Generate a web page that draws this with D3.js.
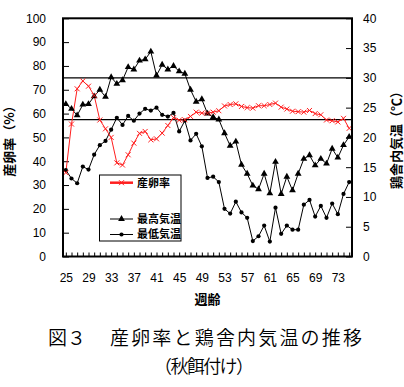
<!DOCTYPE html>
<html>
<head>
<meta charset="utf-8">
<script src="https://cdn.jsdelivr.net/npm/d3@7/dist/d3.min.js"></script>
<style>
  html, body { margin: 0; padding: 0; background: #fff; }
  svg { display: block; }
  text { font-family: "Liberation Sans", Arial, sans-serif; fill: #000; }
  .cjk { font-family: "Noto Sans CJK JP", sans-serif; }
</style>
</head>
<body>
<script>
// ---- data ----
const weeks = [25,26,27,28,29,30,31,32,33,34,35,36,37,38,39,40,41,42,43,44,45,46,47,48,49,50,
  51,52,53,54,55,56,57,58,59,60,61,62,63,64,65,66,67,68,69,70,71,72,73,74,75];
const weekLabels = [25,29,33,37,41,45,49,53,57,61,65,69,73];
const leftTicks = [0,10,20,30,40,50,60,70,80,90,100];
const rightTicks = [0,5,10,15,20,25,30,35,40];

// 産卵率 (%)
const layRate = [35.2,55.6,70.4,73.7,71.5,67.6,57.3,53.6,50.0,39.3,38.4,42.7,47.6,51.7,52.5,49.0,
  49.4,51.8,55.0,58.3,57.2,57.4,58.8,60.6,60.2,60.2,60.6,61.2,63.2,63.8,64.1,63.0,62.5,62.3,
  63.3,63.3,63.8,64.4,62.7,61.9,61.0,60.8,60.6,61.3,60.0,59.5,57.3,57.0,56.5,58.0,53.8];
// 最高気温 (°C)
const maxTemp = [25.6,24.8,23.7,25.5,25.6,26.9,28.0,26.8,30.1,29.0,29.6,31.8,31.4,32.9,33.1,34.4,
  30.4,32.2,31.4,32.0,31.1,30.7,28.0,26.0,26.4,24.0,23.4,23.0,20.7,18.6,19.3,15.4,13.9,11.9,
  11.3,13.9,10.6,15.9,10.5,13.4,11.1,13.9,16.4,17.0,15.3,16.4,15.6,18.1,16.6,18.7,20.1];
// 最低気温 (°C)
const minTemp = [14.5,13.1,12.3,15.1,14.6,17.1,18.7,19.4,21.3,23.3,22.1,23.6,22.8,24.0,24.8,24.5,
  25.0,23.8,23.5,24.1,21.0,22.8,19.5,20.6,18.5,13.2,13.4,12.5,8.0,7.2,9.2,7.4,6.5,2.6,
  3.4,5.2,2.5,8.2,3.8,5.2,4.5,4.5,8.7,9.5,6.7,8.5,6.5,8.9,7.1,10.5,12.5];
// reference lines (°C)
const refTemps = [30, 23];

const seriesNames = ["産卵率", "最高気温", "最低気温"];

// ---- layout ----
const W = 404, H = 387;
const plot = { left: 63, right: 352, top: 18.3, bottom: 256.5 };
const RED = "#ff1f1f";

const svg = d3.select("body").append("svg").attr("width", W).attr("height", H);

const x = d3.scalePoint().domain(weeks).range([plot.left, plot.right]).padding(0.5);
const yL = d3.scaleLinear().domain([0, 100]).range([plot.bottom, plot.top]);
const yR = d3.scaleLinear().domain([0, 40]).range([plot.bottom, plot.top]);

// axes
const gL = svg.append("g").attr("transform", `translate(${plot.left},0)`)
  .call(d3.axisLeft(yL).tickValues(leftTicks).tickSize(-6).tickPadding(17));
const gR = svg.append("g").attr("transform", `translate(${plot.right},0)`)
  .call(d3.axisRight(yR).tickValues(rightTicks).tickSize(-6).tickPadding(11));
const gB = svg.append("g").attr("transform", `translate(0,${plot.bottom})`)
  .call(d3.axisBottom(x).tickSize(-4).tickPadding(17)
    .tickFormat(d => weekLabels.includes(d) ? d : ""));
[gL, gR, gB].forEach(g => {
  g.select(".domain").remove();
  g.selectAll(".tick line").attr("stroke", "#000").attr("stroke-width", 1);
  g.selectAll(".tick text").style("font-family", "'Liberation Sans', Arial, sans-serif")
    .style("font-size", "12px").attr("fill", "#000");
});

// reference lines
svg.selectAll(".ref").data(refTemps).enter().append("line")
  .attr("x1", plot.left).attr("x2", plot.right)
  .attr("y1", d => yR(d)).attr("y2", d => yR(d))
  .attr("stroke", "#000").attr("stroke-width", 1.3);

// lines
const lineL = d3.line().x((d, i) => x(weeks[i])).y(d => yL(d));
const lineR = d3.line().x((d, i) => x(weeks[i])).y(d => yR(d));

svg.append("path").datum(maxTemp).attr("d", lineR).attr("fill", "none").attr("stroke", "#000").attr("stroke-width", 1);
svg.append("path").datum(minTemp).attr("d", lineR).attr("fill", "none").attr("stroke", "#000").attr("stroke-width", 1);
svg.append("path").datum(layRate).attr("d", lineL).attr("fill", "none").attr("stroke", RED).attr("stroke-width", 1);

const tri = d3.symbol().type(d3.symbolTriangle).size(20);
const circ = d3.symbol().type(d3.symbolCircle).size(14);
const times = d3.symbol().type(d3.symbolTimes).size(18);

svg.selectAll(".mx").data(maxTemp).enter().append("path")
  .attr("d", tri).attr("transform", (d, i) => `translate(${x(weeks[i])},${yR(d)})`).attr("fill", "#000");
svg.selectAll(".mn").data(minTemp).enter().append("path")
  .attr("d", circ).attr("transform", (d, i) => `translate(${x(weeks[i])},${yR(d)})`).attr("fill", "#000");
svg.selectAll(".lr").data(layRate).enter().append("path")
  .attr("d", times).attr("transform", (d, i) => `translate(${x(weeks[i])},${yL(d)})`)
  .attr("fill", "none").attr("stroke", RED).attr("stroke-width", 1);

// frame
svg.append("rect").attr("x", plot.left).attr("y", plot.top)
  .attr("width", plot.right - plot.left).attr("height", plot.bottom - plot.top)
  .attr("fill", "none").attr("stroke", "#000").attr("stroke-width", 2);

// legend
const lg = svg.append("g");
lg.append("rect").attr("x", 99.5).attr("y", 175).attr("width", 81.5).attr("height", 66)
  .attr("fill", "#fff").attr("stroke", "#000").attr("stroke-width", 1);
const legendY = [182.7, 219, 234.5];
const legendMarks = [times, tri, circ];
seriesNames.forEach((name, i) => {
  const y = legendY[i];
  lg.append("line").attr("x1", 110).attr("x2", 133).attr("y1", y).attr("y2", y)
    .attr("stroke", i === 0 ? RED : "#000").attr("stroke-width", i === 0 ? 2.5 : 1);
  const m = lg.append("path").attr("d", legendMarks[i]).attr("transform", `translate(121.5,${y})`);
  if (i === 0) m.attr("fill", "none").attr("stroke", RED).attr("stroke-width", 1);
  else m.attr("fill", "#000");
  lg.append("text").attr("class", "cjk").attr("x", 137).attr("y", y).attr("dy", "0.36em")
    .style("font-size", "11px").style("font-weight", "bold").text(name);
});

// axis titles
svg.append("text").attr("class", "cjk")
  .attr("transform", "translate(14,138) rotate(-90)").attr("text-anchor", "middle")
  .style("font-size", "13px").style("font-weight", "bold").text("産卵率（%）");
svg.append("text").attr("class", "cjk")
  .attr("transform", "translate(401,137) rotate(-90)").attr("text-anchor", "middle")
  .style("font-size", "13px").style("font-weight", "bold").text("鶏舎内気温（℃）");
svg.append("text").attr("class", "cjk").attr("x", 207.5).attr("y", 299).attr("dy", "0.36em")
  .attr("text-anchor", "middle").style("font-size", "13px").style("font-weight", "bold").text("週齢");

// caption
svg.append("text").attr("class", "cjk").attr("x", 48).attr("y", 338).attr("dy", "0.36em")
  .style("font-size", "19px").style("font-weight", "350").text("図３");
svg.append("text").attr("class", "cjk").attr("x", 110).attr("y", 338).attr("dy", "0.36em")
  .attr("textLength", 252).style("font-size", "19px").style("font-weight", "350").text("産卵率と鶏舎内気温の推移");
svg.append("text").attr("class", "cjk").attr("x", 204).attr("y", 367).attr("dy", "0.36em")
  .attr("text-anchor", "middle").attr("textLength", 100).style("font-size", "18px").style("font-weight", "350").text("（秋餌付け）");
</script>
</body>
</html>
